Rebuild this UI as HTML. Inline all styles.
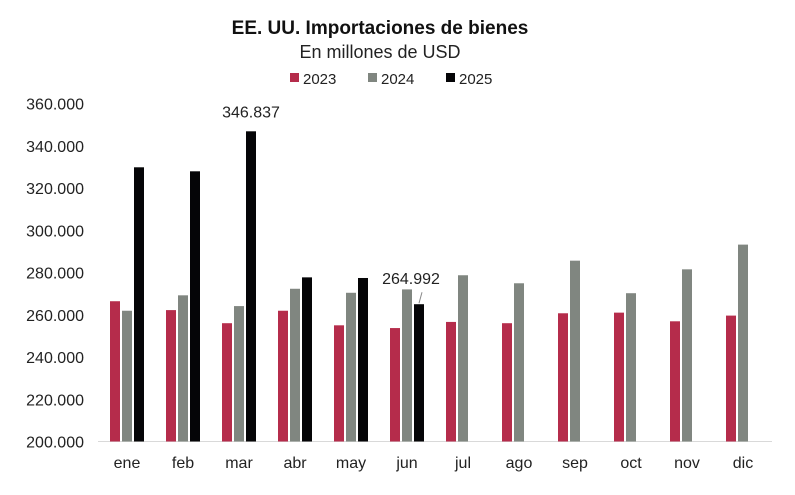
<!DOCTYPE html>
<html><head><meta charset="utf-8"><style>
body{margin:0;background:#fff;font-family:"Liberation Sans",sans-serif}
</style></head><body>
<svg id="c" width="795" height="490" xmlns="http://www.w3.org/2000/svg" font-family="Liberation Sans, sans-serif"></svg>
<script>
const categories=["ene","feb","mar","abr","may","jun","jul","ago","sep","oct","nov","dic"];
const s2023=[266.4,262.2,256.0,261.9,255.0,253.7,256.6,256.0,260.7,261.0,256.9,259.6];
const s2024=[261.9,269.2,264.1,272.3,270.4,272.0,278.7,274.9,285.6,270.2,281.5,293.2];
const s2025=[329.8,327.9,346.837,277.7,277.4,264.992,null,null,null,null,null,null];
const yTicks=[200,220,240,260,280,300,320,340,360];
const yTickLabels=["200.000","220.000","240.000","260.000","280.000","300.000","320.000","340.000","360.000"];
const seriesNames=["2023","2024","2025"];
const seriesColors=["#b52c4b","#808680","#050507"];
const ns="http://www.w3.org/2000/svg";
const svg=document.getElementById('c');
const y0=441.5,y1=103.5,vmin=200,vmax=360;
const yS=v=>y0-(v-vmin)/(vmax-vmin)*(y0-y1);
const xS=i=>127+i*56;
function mk(t,a,txt){const e=document.createElementNS(ns,t);for(const k in a)e.setAttribute(k,a[k]);if(txt!=null)e.textContent=txt;svg.appendChild(e);return e;}
let e;
e=mk('text',{x:380,y:34,'text-anchor':'middle','font-size':19,'font-weight':'bold',fill:'#111'},'EE. UU. Importaciones de bienes');


e=mk('text',{x:380,y:58,'text-anchor':'middle','font-size':18,fill:'#222'},'En millones de USD');


const lx=[290,368,446];
seriesNames.forEach((n,k)=>{
 e=mk('rect',{x:lx[k],y:73,width:9,height:9,fill:seriesColors[k]});
 
 
 e=mk('text',{x:lx[k]+13,y:84,'font-size':15,fill:'#222'},n);
 
 
});
yTicks.forEach((v,i)=>{
 e=mk('text',{x:84,y:yS(v)+6,'text-anchor':'end','font-size':16,fill:'#222'},yTickLabels[i]);
 
 
});
e=mk('line',{x1:98,x2:772,y1:y0,y2:y0,stroke:'#d9d9d9','stroke-width':1});


const all=[s2023,s2024,s2025];
categories.forEach((c,i)=>{
 all.forEach((s,k)=>{
  const v=s[i]; if(v==null)return;
  const x=xS(i)-17+k*12;
  e=mk('rect',{x:x,y:yS(v),width:10,height:y0-yS(v),fill:seriesColors[k]});
  
  
 });
 e=mk('text',{x:xS(i),y:468,'text-anchor':'middle','font-size':16,fill:'#222'},c);
 
 
});
// data labels
let v=s2025[2];
e=mk('text',{x:xS(2)+12,y:yS(v)-14,'text-anchor':'middle','font-size':16,fill:'#222'},v.toFixed(3));


v=s2025[5];
e=mk('text',{x:xS(5)+4,y:yS(v)-20,'text-anchor':'middle','font-size':16,fill:'#222'},v.toFixed(3));


e=mk('line',{x1:xS(5)+12,y1:yS(v)-1,x2:xS(5)+15,y2:yS(v)-12,stroke:'#888','stroke-width':1});


</script>
</body></html>
